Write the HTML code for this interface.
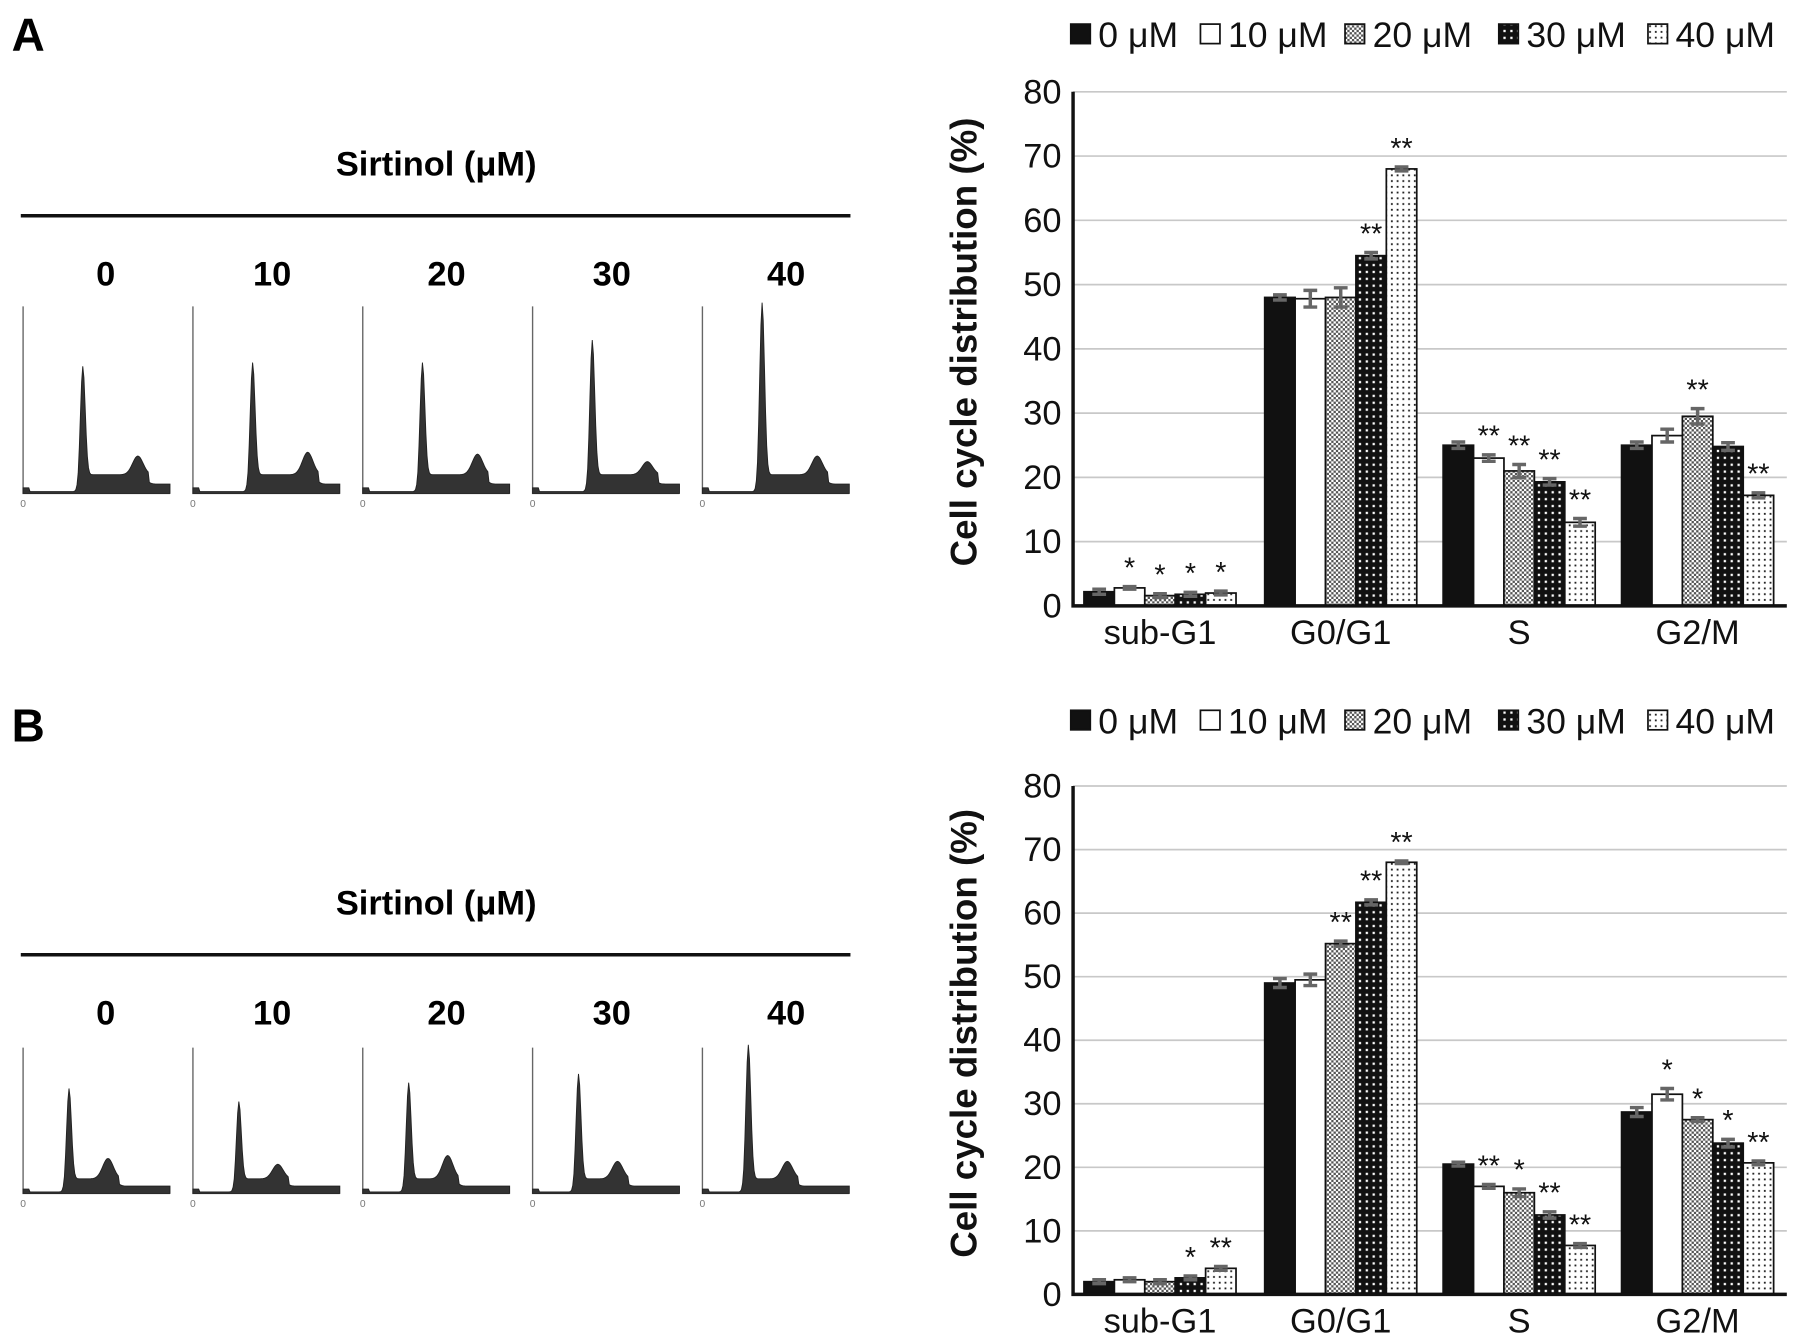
<!DOCTYPE html>
<html><head><meta charset="utf-8"><style>
html,body{margin:0;padding:0;background:#fff;}
svg{display:block;}
text{font-family:"Liberation Sans",sans-serif;}
.b{font-weight:bold;font-family:"Liberation Sans Narrow","Liberation Sans",sans-serif;}
</style></head><body>
<svg id="fig" width="1795" height="1338" viewBox="0 0 1564 1166" xmlns="http://www.w3.org/2000/svg">
<defs>
<pattern id="p20" width="4" height="4" patternUnits="userSpaceOnUse"><rect width="4" height="4" fill="#fff"/><rect width="2" height="2" fill="#555"/><rect x="2" y="2" width="2" height="2" fill="#555"/></pattern>
<pattern id="p30" width="6" height="6" patternUnits="userSpaceOnUse"><rect width="6" height="6" fill="#111"/><rect x="2" y="2" width="2" height="2" fill="#fff"/></pattern>
<pattern id="p40" width="5" height="5" patternUnits="userSpaceOnUse"><rect width="5" height="5" fill="#fff"/><rect x="2" y="2" width="1.6" height="1.6" fill="#222"/></pattern>
</defs>
<g id="root"></g>
</svg>
<script>
const categories = ["sub-G1","G0/G1","S","G2/M"];
const doses = ["0 μM","10 μM","20 μM","30 μM","40 μM"];
const yTicks = [0,10,20,30,40,50,60,70,80];
// panel A values [dose][category]
const valuesA0 = [2.2,48,25,25];
const valuesA10 = [2.8,47.8,23,26.5];
const valuesA20 = [1.6,48,21,29.5];
const valuesA30 = [1.8,54.5,19.3,24.8];
const valuesA40 = [2.0,68,13,17.2];
const errA0 = [0.4,0.4,0.5,0.5];
const errA10 = [0.2,1.3,0.5,1.0];
const errA20 = [0.3,1.5,1.0,1.2];
const errA30 = [0.3,0.5,0.5,0.6];
const errA40 = [0.3,0.3,0.6,0.4];
const starsA0 = ["","","",""];
const starsA10 = ["*","","**",""];
const starsA20 = ["*","","**","**"];
const starsA30 = ["*","**","**",""];
const starsA40 = ["*","**","**","**"];
// panel B
const valuesB0 = [2.0,49,20.5,28.7];
const valuesB10 = [2.3,49.5,17,31.5];
const valuesB20 = [2.0,55.2,16,27.5];
const valuesB30 = [2.6,61.7,12.5,23.8];
const valuesB40 = [4.1,68,7.7,20.7];
const errB0 = [0.3,0.7,0.3,0.7];
const errB10 = [0.3,0.9,0.3,0.9];
const errB20 = [0.3,0.4,0.6,0.3];
const errB30 = [0.3,0.4,0.5,0.6];
const errB40 = [0.3,0.2,0.3,0.3];
const starsB0 = ["","","",""];
const starsB10 = ["","","**","*"];
const starsB20 = ["","**","*","*"];
const starsB30 = ["*","**","**","*"];
const starsB40 = ["**","**","**","**"];
// histogram peak heights (fraction of panel height)
const histG1A = [0.58,0.60,0.60,0.72,0.92];
const histG2A = [0.10,0.12,0.11,0.07,0.10];
const histG1B = [0.62,0.53,0.66,0.72,0.92];
const histG2B = [0.14,0.10,0.16,0.12,0.12];

const NS="http://www.w3.org/2000/svg";
const root=document.getElementById('root');
function mk(tag,attrs,parent,txt){const e=document.createElementNS(NS,tag);for(const k in attrs)e.setAttribute(k,attrs[k]);if(txt!==undefined)e.textContent=txt;(parent||root).appendChild(e);return e;}
const fills=["#111","#fff","url(#p20)","url(#p30)","url(#p40)"];

function barChart(id,top,y0,y80,vals,errs,stars){
  const g=mk('g',{});
  
  
  const x0=935,x1=1557;
  const y=v=>y0-(v/80)*(y0-y80);
  const gw=(x1-x0)/categories.length, bw=26.5;
  yTicks.forEach(t=>{
    if(t>0){const l=mk('line',{x1:x0,x2:x1,y1:y(t),y2:y(t),stroke:'#c8c8c8','stroke-width':1.5},g);
    }
    const tx=mk('text',{x:925,y:y(t)+10,'text-anchor':'end','font-size':30,fill:'#111'},g,String(t));
    
  });
  categories.forEach((c,i)=>{
    const cx=x0+(i+0.5)*gw;
    for(let j=0;j<5;j++){
      const v=vals[j][i],e=errs[j][i];
      const bx=cx+(j-2.5)*bw+ (i==0?-2:0);
      const r=mk('rect',{x:bx,y:y(v),width:bw,height:y0-y(v),fill:fills[j],stroke:'#111','stroke-width':1.5},g);
      
      const m=bx+bw/2;
      const eb=mk('path',{d:`M${m},${y(v+e)}V${y(v-e)}M${m-6},${y(v+e)}H${m+6}M${m-6},${y(v-e)}H${m+6}`,stroke:'#666','stroke-width':3,fill:'none'},g);
      
      if(stars[j][i]){const s=mk('text',{x:m,y:y(v+e)-8,'text-anchor':'middle','font-size':25,fill:'#111'},g,stars[j][i]);
        }
    }
    const xl=mk('text',{x:cx+(i==0?-2:0),y:y0+33,'text-anchor':'middle','font-size':30,fill:'#111'},g,c);
    
  });
  const ax=mk('path',{d:`M${x0},${y80}V${y0}H${x1}`,stroke:'#111','stroke-width':3,fill:'none'},g);
  
  const yt=mk('text',{x:0,y:0,transform:`translate(851,${(y0+y80)/2-6}) rotate(-90)`,'text-anchor':'middle','font-size':32,'class':'b',fill:'#111'},g,'Cell cycle distribution (%)');
  
  // legend
  const lx=[933,1046,1172,1306,1436];
  doses.forEach((d,j)=>{
    const r=mk('rect',{x:lx[j],y:top-9,width:17,height:17,fill:fills[j],stroke:'#111','stroke-width':1.5},g);
    
    const t=mk('text',{x:lx[j]+24,y:top+11,'font-size':31,fill:'#111'},g,d);
    
  });
}

function histPanel(id,labelY,titleY,lineY,numY,baseY,topY,g1,g2,g1off,g2off){
  const g=mk('g',{});
  
  
  const L=mk('text',{x:10,y:labelY+14,'font-size':40,'class':'b',fill:'#000'},g,id);
  
  const t=mk('text',{x:380,y:titleY+10,'text-anchor':'middle','font-size':30,'class':'b',fill:'#000'},g,'Sirtinol (μM)');
  
  const ln=mk('line',{x1:18,x2:741,y1:lineY,y2:lineY,stroke:'#111','stroke-width':3},g);
  
  const labs=["0","10","20","30","40"],lxs=[92,237,389,533,685];
  const H=baseY-topY;
  labs.forEach((s,k)=>{
    const n=mk('text',{x:lxs[k],y:numY+11,'text-anchor':'middle','font-size':30,'class':'b',fill:'#000'},g,s);
    
    const px=20+k*148;
    const ax=mk('path',{d:`M${px},${topY}V${baseY}H${px+128}`,stroke:'#666','stroke-width':1.2,fill:'none'},g);
    
    let d=`M${px},${baseY}`;
    for(let x=0;x<=128;x+=1){
      let h=0.01;
      if(x<6)h=0.03;
      h+=g1[k]*Math.exp(-Math.pow((x-g1off)/3,2));
      if(x>g1off-4&&x<g2off+10)h+=0.09*Math.min(1,(x-g1off+4)/4);
      h+=g2[k]*Math.exp(-Math.pow((x-g2off)/6.5,2));
      if(x>=g2off+10)h+=0.04;
      d+=`L${px+x},${baseY-h*H}`;
    }
    d+=`L${px+128},${baseY}Z`;
    const p=mk('path',{d:d,fill:'#333',stroke:'#222','stroke-width':0.8},g);
    
    const z=mk('text',{x:px,y:baseY+12,'text-anchor':'middle','font-size':9,fill:'#777'},g,'0');
    
  });
}

histPanel('A',30,143,188,238,430,267,histG1A,histG2A,52,100);
histPanel('B',632,787,832,882,1040,913,histG1B,histG2B,40,74);
barChart('A',30,528,80,[valuesA0,valuesA10,valuesA20,valuesA30,valuesA40],[errA0,errA10,errA20,errA30,errA40],[starsA0,starsA10,starsA20,starsA30,starsA40]);
barChart('B',628,1128,685,[valuesB0,valuesB10,valuesB20,valuesB30,valuesB40],[errB0,errB10,errB20,errB30,errB40],[starsB0,starsB10,starsB20,starsB30,starsB40]);
</script>
</body></html>
